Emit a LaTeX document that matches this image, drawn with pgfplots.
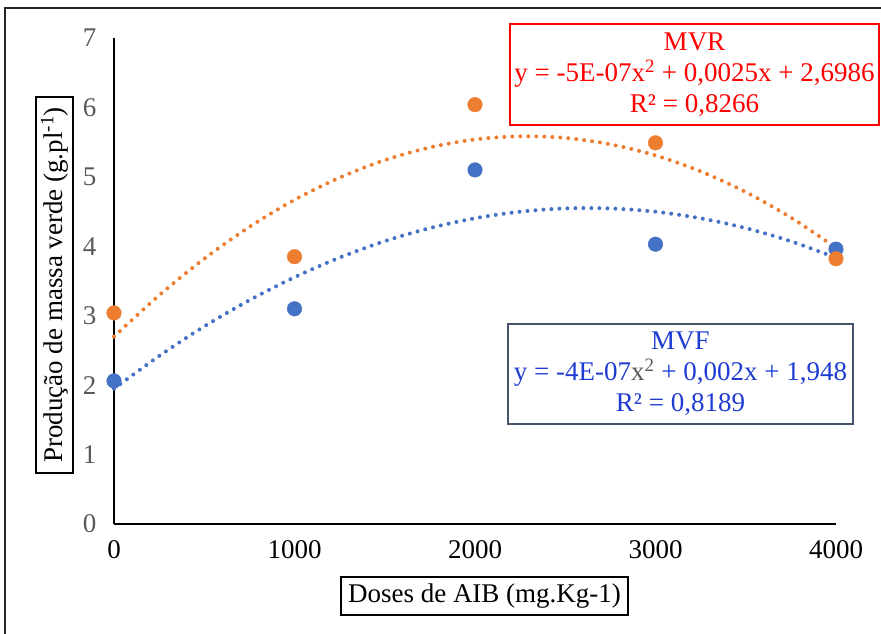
\documentclass[border=0pt]{standalone}
\usepackage{fontspec}
\setmainfont{Liberation Serif}
\usepackage{pgfplots}
\pgfplotsset{compat=1.18}
\definecolor{mvfblue}{RGB}{68,114,196}
\definecolor{mvrorange}{RGB}{237,125,49}
\definecolor{ticgray}{RGB}{89,89,89}
\definecolor{boxslate}{RGB}{68,84,106}
\definecolor{eqblue}{RGB}{30,60,210}
\begin{document}
\begin{tikzpicture}[x=1pt,y=1pt,font=\fontsize{27}{31}\selectfont]
\useasboundingbox (0,0) rectangle (881,634);
\draw[line width=1.5pt, black!85] (5,0) -- (5,626) -- (881,626);
\begin{axis}[
  at={(114pt,110pt)}, anchor=south west,
  scale only axis, width=722pt, height=486pt,
  xmin=0, xmax=4000, ymin=0, ymax=7,
  axis x line*=bottom, axis y line*=left,
  axis line style={line width=1.5pt, black, -},
  xtick={0,1000,2000,3000,4000}, ytick={0,1,2,3,4,5,6,7},
  major tick length=0pt,
  tick label style={font=\fontsize{27}{32}\selectfont},
  yticklabel style={text=ticgray, xshift=-14pt},
  xticklabel style={text=black, yshift=-13pt},
  /pgf/number format/1000 sep={},
  /pgf/number format/assume math mode=true,
  clip=false,
]
% trend lines (polynomial order 2)
\addplot[mvfblue, line width=4pt, dash pattern=on 0pt off 8pt, line cap=round, smooth, no markers] coordinates {
(0,1.948) (250,2.420) (500,2.846) (750,3.223) (1000,3.554) (1250,3.837) (1500,4.074) (1750,4.262) (2000,4.404) (2250,4.498) (2500,4.546) (2750,4.545) (3000,4.498) (3250,4.403) (3500,4.262) (3750,4.072) (4000,3.836)};
\addplot[mvrorange, line width=4pt, dash pattern=on 0pt off 8pt, line cap=round, smooth, no markers] coordinates {
(0,2.699) (250,3.294) (500,3.821) (750,4.279) (1000,4.669) (1250,4.989) (1500,5.241) (1750,5.424) (2000,5.539) (2250,5.584) (2500,5.561) (2750,5.469) (3000,5.309) (3250,5.079) (3500,4.781) (3750,4.414) (4000,3.979)};
% data
\addplot[only marks, mark=*, mark size=7.3pt, mvfblue, mark options={draw=mvfblue, fill=mvfblue}] coordinates {
(0,2.06) (1000,3.10) (2000,5.10) (3000,4.03) (4000,3.96)};
\addplot[only marks, mark=*, mark size=7.3pt, mvrorange, mark options={draw=mvrorange, fill=mvrorange}] coordinates {
(0,3.04) (1000,3.85) (2000,6.04) (3000,5.49) (4000,3.82)};
\end{axis}
% equation boxes
\draw[red, line width=1.5pt, fill=white] (510,509) rectangle (879,610);
\node[red, align=center] at (694.5,559.5) {MVR\\y = -5E-07x\textsuperscript{2} + 0,0025x + 2,6986\\R² = 0,8266};
\draw[boxslate, line width=1.5pt, fill=white] (508,210) rectangle (853,310);
\node[eqblue, align=center] at (680.5,260) {MVF\\y = -4E-07{\color{ticgray}x\textsuperscript{2}} + 0,002x + 1,948\\R² = 0,8189};
% axis titles
\draw[black, line width=1.5pt, fill=white] (36,161) rectangle (73,537);
\node[rotate=90, black] at (54.5,349) {Produção de massa verde (g.pl\textsuperscript{-1})};
\draw[black, line width=1.5pt, fill=white] (341,19) rectangle (628,57);
\node[black] at (484.5,38) {Doses de AIB (mg.Kg-1)};
\end{tikzpicture}
\end{document}
